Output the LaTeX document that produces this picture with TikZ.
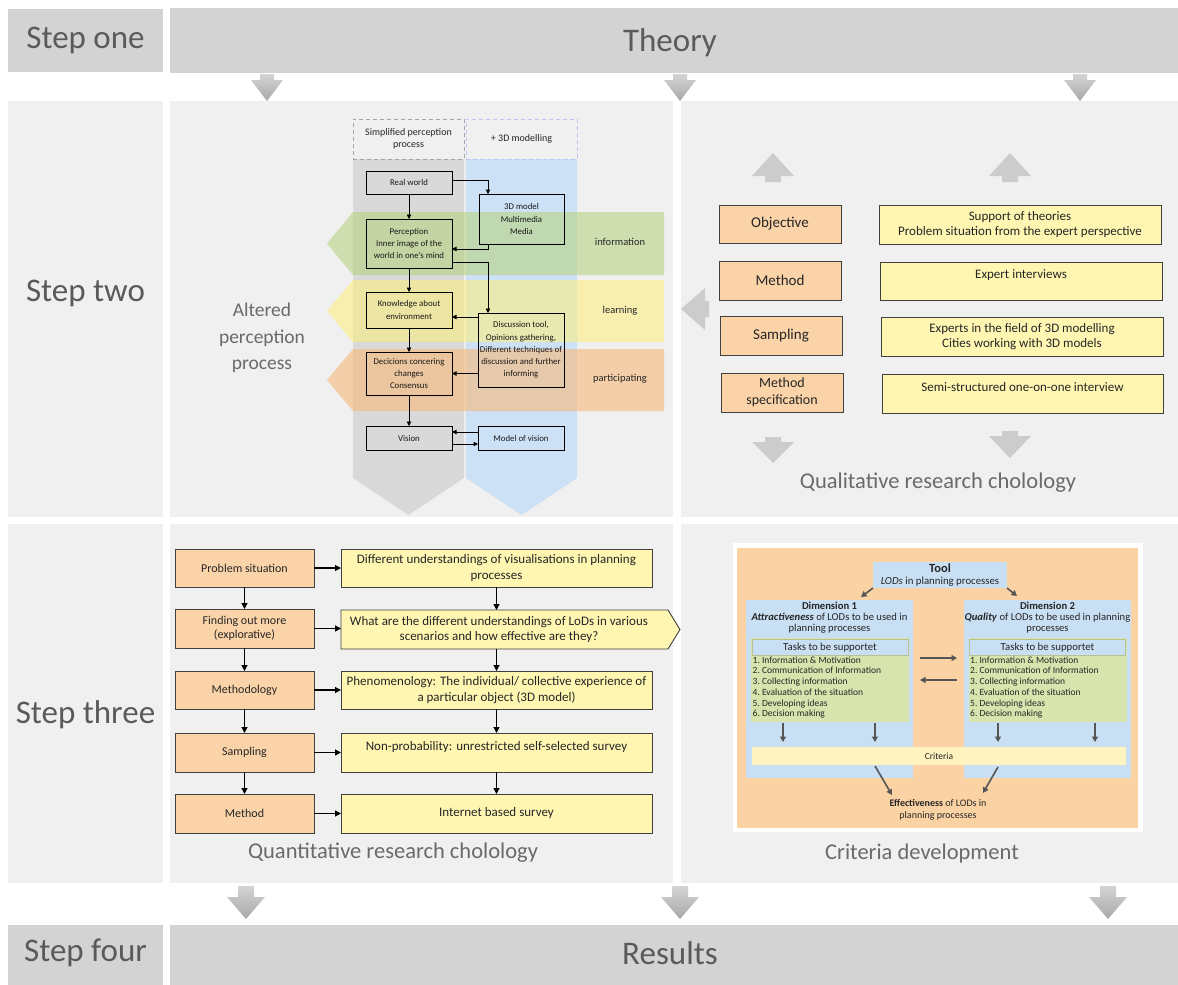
\documentclass[tikz,border=0pt]{standalone}
\usepackage{fontspec}
\setmainfont{Carlito}
\usetikzlibrary{arrows.meta,calc}

\definecolor{lblgray}{HTML}{D3D3D3}
\definecolor{panelgray}{HTML}{F0F0F0}
\definecolor{steptext}{HTML}{5A5A5A}
\definecolor{captext}{HTML}{6A6A6A}
\definecolor{arrowgray}{HTML}{C6C6C6}
\definecolor{orangebox}{HTML}{FAD3A8}
\definecolor{yellowbox}{HTML}{FFF6B2}
\definecolor{colgray}{HTML}{D9D9D9}
\definecolor{colblue}{HTML}{CCE1F6}
\definecolor{bandgreen}{HTML}{B5D178}
\definecolor{bandyellow}{HTML}{FFEF7A}
\definecolor{bandorange}{HTML}{F8B878}
\definecolor{critorange}{HTML}{FAD2A4}
\definecolor{critblue}{HTML}{C9DFF3}
\definecolor{critgreen}{HTML}{D7E4AD}
\definecolor{crityellow}{HTML}{FFF4BF}
\definecolor{darkarrow}{HTML}{555555}

\newcommand{\fz}[2]{\fontsize{#1}{#2}\selectfont}
% block arrow pointing down: x, stem top, head base, tip, head half width, stem half width
\newcommand{\bigdown}[7][bigarr]{%
  \path[#1] (#2-#7,#3) -- (#2+#7,#3) -- (#2+#7,#4) -- (#2+#6,#4) -- (#2,#5)
    -- (#2-#6,#4) -- (#2-#7,#4) -- cycle;}
% block arrow pointing up: x, tip, head base, stem bottom, head half width, stem half width
\newcommand{\bigup}[7][flatarr]{%
  \path[#1] (#2,#3) -- (#2+#6,#4) -- (#2+#7,#4) -- (#2+#7,#5) -- (#2-#7,#5)
    -- (#2-#7,#4) -- (#2-#6,#4) -- cycle;}

\tikzset{
  box/.style={rectangle, inner sep=0pt, outer sep=0pt},
  steplabel/.style={box, fill=lblgray, text=steptext, font=\fz{33}{38}},
  panel/.style={box, fill=panelgray},
  bigtext/.style={text=steptext, font=\fz{33}{38}},
  caption/.style={text=captext, font=\fz{22.5}{26}},
  bigarr/.style={top color=#1!75!white, bottom color=#1!85!black, draw=none},
  bigarr/.default=arrowgray,
  flatarr/.style={fill=arrowgray!90!white},
  pbox/.style={box, draw=black, line width=0.8pt, align=center, font=\fz{8.8}{12.3}, text=black!90},
  phead/.style={box, dash pattern=on 4pt off 3pt, line width=0.8pt, align=center, font=\fz{10}{12.5}, text=black!85},
  parr/.style={draw=black, line width=0.8pt, -{Triangle[length=4.5pt,width=4.5pt]}},
  bandtext/.style={font=\fz{10.5}{12}, text=black!85},
  obox/.style={box, draw=black!75, line width=0.9pt, fill=orangebox, align=center},
  ybox/.style={box, draw=black!75, line width=0.9pt, fill=yellowbox, align=center},
  otext/.style={font=\fz{15}{17}, text=black!85, align=center},
  ytext/.style={font=\fz{13}{15.5}, text=black!85, align=center},
  o3text/.style={font=\fz{12}{14.5}, text=black!85, align=center},
  y3text/.style={font=\fz{13}{15.5}, text=black!85, align=center},
  barr/.style={draw=black, line width=1.1pt, -{Triangle[length=6pt,width=6pt]}},
  cblue/.style={box, fill=critblue},
  ctext/.style={font=\fz{9.5}{10.7}, text=black!85},
  darr/.style={draw=darkarrow, line width=1.6pt, -{Triangle[length=5.5pt,width=6pt]}},
}

\begin{document}
\begin{tikzpicture}[x=1pt,y=-1pt]
\useasboundingbox (0,0) rectangle (1178,985);
\fill[white] (0,0) rectangle (1178,985);

% ---------- step one: theory ----------
\node[steplabel, minimum width=155, minimum height=63] (s1) at (85.5,40.5) {Step one};
\node[box, fill=lblgray, minimum width=1008, minimum height=65] (theory) at (674,40.5) {};
\node[bigtext] (theoryt) at (670,43) {Theory};

% ---------- step two / three panels ----------
\node[panel, minimum width=155, minimum height=416] (s2) at (85.5,309) {};
\node[bigtext] (s2t) at (85.5,293) {Step two};
\node[panel, minimum width=503, minimum height=416] (p2a) at (421.5,309) {};
\node[panel, minimum width=497, minimum height=416] (p2b) at (929.5,309) {};

\node[panel, minimum width=155, minimum height=359] (s3) at (85.5,703.5) {};
\node[bigtext] (s3t) at (85.5,715) {Step three};
\node[panel, minimum width=503, minimum height=359] (p3a) at (421.5,703.5) {};
\node[panel, minimum width=497, minimum height=359] (p3b) at (929.5,703.5) {};

% ---------- step four: results ----------
\node[steplabel, minimum width=155, minimum height=60] (s4) at (85.5,955) {};
\node[bigtext] (s4t) at (85.5,953) {Step four};
\node[box, fill=lblgray, minimum width=1008, minimum height=60] (results) at (674,955) {};
\node[bigtext] (resultst) at (670,953) {Results};

% flow arrows between the rows
\bigdown{267}{74}{80}{101}{16}{7}
\bigdown{680}{74}{80}{101}{16}{7}
\bigdown{1080}{74}{80}{101}{16}{7}
\bigdown{246}{886}{897}{919}{19}{8}
\bigdown{680}{886}{897}{919}{19}{8}
\bigdown{1108}{886}{897}{919}{19}{8}

% ---------- altered perception process ----------
\fill[colgray] (353,159) -- (464,159) -- (464,478) -- (408.5,515) -- (353,478) -- cycle;
\fill[colblue] (466,159) -- (577,159) -- (577,478) -- (521.5,515) -- (466,478) -- cycle;
\node[phead, draw=black!35, minimum width=111, minimum height=40] (hd1) at (408.5,139) {Simplified perception\\process};
\node[phead, draw=colblue!70!blue!60!white, minimum width=111, minimum height=40] (hd2) at (521.5,139) {+ 3D modelling};

\fill[bandgreen, opacity=0.55] (327,243.5) -- (353,212) -- (664,212) -- (664,275) -- (353,275) -- cycle;
\fill[bandyellow, opacity=0.55] (327,311) -- (353,280) -- (664,280) -- (664,342) -- (353,342) -- cycle;
\fill[bandorange, opacity=0.6] (327,380) -- (353,349) -- (664,349) -- (664,411) -- (353,411) -- cycle;

\node[bandtext] (binfo) at (620,242) {information};
\node[bandtext] (blearn) at (620,311) {learning};
\node[bandtext] (bpart) at (620,379) {participating};

\node[pbox, minimum width=86, minimum height=23] (real) at (409,182.5) {Real world};
\node[pbox, minimum width=85, minimum height=50] (model3d) at (521.5,219) {3D model\\Multimedia\\Media};
\node[pbox, minimum width=86, minimum height=49] (percep) at (409,243.5) {Perception\\Inner image of the\\world in one's mind};
\node[pbox, minimum width=86, minimum height=36] (know) at (409,310) {Knowledge about\\environment};
\node[pbox, minimum width=86, minimum height=74] (disc) at (521,350) {Discussion tool,\\Opinions gathering,\\Different techniques of\\discussion and further\\informing};
\node[pbox, minimum width=86, minimum height=43] (decis) at (409,373.5) {Decicions concering\\changes\\Consensus};
\node[pbox, minimum width=86, minimum height=24] (vision) at (409,438) {Vision};
\node[pbox, minimum width=86, minimum height=24] (mvision) at (521,438) {Model of vision};

\draw[parr] (real) -- (percep);
\draw[parr] ($(real.east)+(0,-2.5)$) -| ($(model3d.north west)+(9,0)$);
\draw[parr] ($(model3d.south west)+(9,0)$) |- ($(percep.east)+(0,5.5)$);
\draw[parr] ($(percep.east)+(0,18.5)$) -| ($(disc.north west)+(10,0)$);
\draw[parr] (percep) -- (know);
\draw[parr] ($(disc.west)+(0,-33)$) -- ($(know.east)+(0,7)$);
\draw[parr] (know) -- (decis);
\draw[parr] ($(disc.west)+(0,23.5)$) -- (decis.east);
\draw[parr] (decis) -- (vision);
\draw[parr] ($(mvision.west)+(0,-6)$) -- ($(vision.east)+(0,-6)$);
\draw[parr] ($(vision.east)+(0,6)$) -- ($(mvision.west)+(0,6)$);

\node[text=captext, font=\fz{19.5}{26.5}, align=center] (altered) at (262,338) {Altered\\perception\\process};

% ---------- qualitative research ----------
\bigup{773}{153}{176}{182}{21}{8}
\bigup{1010}{153}{176}{182}{21}{8}
\bigdown[flatarr]{773}{437}{442}{463}{21}{8}
\bigdown[flatarr]{1010}{431}{436}{458}{21}{8}
\path[flatarr] (681,309) -- (705,288) -- (705,301) -- (709,301) -- (709,317) -- (705,317) -- (705,330) -- cycle;

\node[obox, otext, minimum width=122, minimum height=38] (qobj) at (780,224) {Objective};
\node[obox, otext, minimum width=122, minimum height=39] (qmeth) at (780,280.5) {Method};
\node[obox, otext, minimum width=122, minimum height=39] (qsamp) at (781,335.5) {Sampling};
\node[obox, otext, font=\fz{14}{16.5}, minimum width=122, minimum height=39] (qspec) at (782,392.5) {Method\\specification};

\node[ybox, ytext, minimum width=282, minimum height=39] (qy1) at (1020,224.5) {Support of theories\\Problem situation from the expert perspective};
\node[ybox, minimum width=282, minimum height=38] (qy2) at (1021,281) {};
\node[ytext] (qy2t) at (1021,275) {Expert interviews};
\node[ybox, ytext, minimum width=282, minimum height=39] (qy3) at (1022,336.5) {Experts in the field of 3D modelling\\Cities working with 3D models};
\node[ybox, minimum width=281, minimum height=39] (qy4) at (1022.5,393.5) {};
\node[ytext] (qy4t) at (1022.5,387.5) {Semi-structured one-on-one interview};

\node[caption] (qcap) at (938,483) {Qualitative research cholology};

% ---------- quantitative research ----------
\node[obox, o3text, minimum width=139, minimum height=38] (ps) at (244.5,568) {Problem situation};
\node[obox, o3text, minimum width=139, minimum height=39] (fom) at (244.5,628.5) {Finding out more\\(explorative)};
\node[obox, o3text, minimum width=139, minimum height=38] (methg) at (244.5,690) {Methodology};
\node[obox, o3text, minimum width=139, minimum height=39] (samp3) at (244.5,752.5) {Sampling};
\node[obox, o3text, minimum width=139, minimum height=39] (meth3) at (244.5,813.5) {Method};

\node[ybox, y3text, minimum width=311, minimum height=38] (ya) at (496.5,568) {Different understandings of visualisations in planning\\processes};
\node[box, minimum width=327, minimum height=39] (yb) at (504.5,629.5) {};
\draw[draw=black!75, line width=0.9pt, fill=yellowbox] (yb.north west) -- (yb.north east)
  -- ($(yb.east)+(12,0)$) -- (yb.south east) -- (yb.south west) -- cycle;
\node[y3text] (ybt) at (499,629.5) {What are the different understandings of LoDs in various\\scenarios and how effective are they?};
\node[ybox, y3text, minimum width=311, minimum height=38] (yc) at (496.5,690) {Phenomenology: The individual/ collective experience of\\a particular object (3D model)};
\node[ybox, minimum width=311, minimum height=39] (yd) at (496.5,752.5) {};
\node[y3text] (ydt) at (496.5,747) {Non-probability: unrestricted self-selected survey};
\node[ybox, y3text, minimum width=311, minimum height=39] (ye) at (496.5,813.5) {Internet based survey};

\draw[barr] (ps) -- (fom);
\draw[barr] (fom) -- (methg);
\draw[barr] (methg) -- (samp3);
\draw[barr] (samp3) -- (meth3);
\draw[barr] (ps) -- (ya);
\draw[barr] (fom.east) -- (fom.east -| yb.west);
\draw[barr] (methg) -- (yc);
\draw[barr] (samp3) -- (yd);
\draw[barr] (meth3) -- (ye);
\draw[barr] (ya.south) -- (ya.south |- yb.north);
\draw[barr] (ya.south |- yb.south) -- (yc.north);
\draw[barr] (yc) -- (yd);
\draw[barr] (yd) -- (ye);

\node[caption] (ncap) at (393,853) {Quantitative research cholology};

% ---------- criteria development ----------
\node[box, fill=white, minimum width=410, minimum height=289] (cframe) at (938,687.5) {};
\node[box, fill=critorange, minimum width=401, minimum height=280] (cbg) at (937.5,688) {};

\node[cblue, ctext, align=center, font=\fz{10.8}{11.5}, minimum width=134, minimum height=26] (tool) at (940,575)
  {{\fz{12.5}{12}\bfseries Tool}\\\textit{LODs} in planning processes};

\node[cblue, minimum width=167, minimum height=178] (dim1) at (829.5,689) {};
\node[cblue, minimum width=167, minimum height=178] (dim2) at (1047.5,689) {};
\node[ctext, align=center, font=\fz{10.6}{11}] (dim1t) at (829.5,617.5)
  {\textbf{Dimension 1}\\\textbf{\textit{Attractiveness}} of LODs to be used in\\planning processes};
\node[ctext, align=center, font=\fz{10.6}{11}] (dim2t) at (1047.5,617.5)
  {\textbf{Dimension 2}\\\textbf{\textit{Quality}} of LODs to be used in planning\\processes};

\node[box, fill=critgreen, minimum width=158, minimum height=84] (g1) at (830,680) {};
\node[box, fill=critgreen, minimum width=158, minimum height=84] (g2) at (1047.5,680) {};
\node[cblue, ctext, draw=critgreen!85!black, line width=0.4pt, font=\fz{10.8}{11}, minimum width=156, minimum height=16] (h1) at (830,647.5) {Tasks to be supportet};
\node[cblue, ctext, draw=critgreen!85!black, line width=0.4pt, font=\fz{10.8}{11}, minimum width=156, minimum height=16] (h2) at (1047.5,647.5) {Tasks to be supportet};
\node[ctext, anchor=north west, align=left, inner sep=0pt, font=\fz{9.5}{10.7}] (l1) at (752.5,656.5)
  {1.~Information \& Motivation\\2.~Communication of Information\\3.~Collecting information\\4.~Evaluation of the situation\\5.~Developing ideas\\6.~Decision making};
\node[ctext, anchor=north west, align=left, inner sep=0pt, font=\fz{9.5}{10.7}] (l2) at (970,656.5)
  {1.~Information \& Motivation\\2.~Communication of Information\\3.~Collecting information\\4.~Evaluation of the situation\\5.~Developing ideas\\6.~Decision making};

\node[box, fill=crityellow, ctext, minimum width=374, minimum height=18] (crit) at (939,756) {Criteria};

\draw[darr] (tool.south west) -- ($(dim1.north east)+(-52,-3)$);
\draw[darr] (tool.south east) -- ($(dim2.north west)+(53,-4)$);
\draw[darr] ($(dim1.east)+(7,-31)$) -- ($(dim2.west)+(-7,-31)$);
\draw[darr] ($(dim2.west)+(-7,-9)$) -- ($(dim1.east)+(7,-9)$);
\draw[darr] ($(g1.south west)+(32,1)$) -- ($(crit.north west)+(31,-5)$);
\draw[darr] ($(g1.south west)+(124,1)$) -- ($(crit.north west)+(123,-5)$);
\draw[darr] ($(g2.south west)+(29.5,1)$) -- ($(crit.north west)+(246,-5)$);
\draw[darr] ($(g2.south west)+(126.5,1)$) -- ($(crit.north west)+(343,-5)$);

\node[ctext, align=center, font=\fz{10}{12.5}] (eff) at (938,810) {\textbf{Effectiveness} of LODs in\\planning processes};
\draw[darr] ($(crit.south west)+(123,1)$) -- ($(eff.center)+(-46,-15)$);
\draw[darr] ($(crit.south west)+(246,2)$) -- ($(eff.center)+(45,-17)$);

\node[caption] (ccap) at (922,853) {Criteria development};
\end{tikzpicture}
\end{document}
